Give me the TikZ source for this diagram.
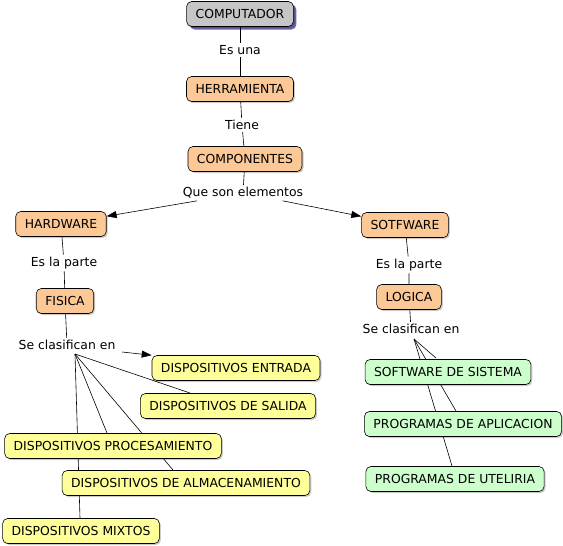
\documentclass[tikz,border=0pt]{standalone}
\usepackage{fontspec}
\setmainfont{DejaVu Sans}
\usetikzlibrary{arrows.meta,shadows}

\definecolor{peach}{HTML}{FCC896}
\definecolor{lemon}{HTML}{FFFF99}
\definecolor{mint}{HTML}{CCFFCC}
\definecolor{greybox}{HTML}{C6C6C6}

\begin{document}
\begin{tikzpicture}[x=1pt, y=-1pt, line width=0.6pt,
    every node/.style={font=\fontsize{12.4pt}{14pt}\selectfont},
    concept/.style={draw, rounded corners=5pt, minimum height=25pt, inner xsep=9pt,
      drop shadow={shadow xshift=1.5pt, shadow yshift=-1.5pt, fill=black, opacity=0.2}},
    link/.style={inner sep=2pt},
    tip/.style={-{Triangle[length=10pt,width=7pt]}}]
  \useasboundingbox (0,0) rectangle (563,546);
  % link words
  \node[link] (esuna) at (240,50) {Es una};
  \node[link] (tiene) at (242,125) {Tiene};
  \node[link] (queson) at (243,193) {Que son elementos};
  % hardware side
  \node[link] (parteL) at (64,263) {Es la parte};
  \node[link] (clasL) at (67,345) {Se clasifican en};
  % software side
  \node[link] (parteR) at (409,265) {Es la parte};
  \node[link] (clasR) at (411,329) {Se clasifican en};

  % boxes
  \node[concept, fill=greybox, drop shadow={shadow xshift=3pt, shadow yshift=-3pt, fill=black!60!blue, opacity=0.6}] (comp) at (240,14) {COMPUTADOR};
  \node[concept, fill=peach] (herr) at (240,89) {HERRAMIENTA};
  \node[concept, fill=peach] (compo) at (245,159) {COMPONENTES};
  \node[concept, fill=peach] (hard) at (61,224) {HARDWARE};
  \node[concept, fill=peach] (soft) at (405,225) {SOTFWARE};
  \node[concept, fill=peach] (fisica) at (65,301) {FISICA};
  \node[concept, fill=peach] (logica) at (409,297) {LOGICA};

  % fan lines under the lower boxes
  \coordinate (fanL) at (75,354);
  \coordinate (fanR) at (414,339);
  \draw (fanL) -- (190,393);
  \draw (fanL) -- (107,433);
  \draw (fanL) -- (173,470);
  \draw (fanL) -- (80,518);
  \draw (fanR) -- (436,358);
  \draw (fanR) -- (456,411);
  \draw (fanR) -- (452,466);

  \node[concept, fill=lemon] (entrada) at (236,368) {DISPOSITIVOS ENTRADA};
  \node[concept, fill=lemon] (salida) at (228,406) {DISPOSITIVOS DE SALIDA};
  \node[concept, fill=lemon] (proc) at (113,446) {DISPOSITIVOS PROCESAMIENTO};
  \node[concept, fill=lemon] (almac) at (186,483) {DISPOSITIVOS DE ALMACENAMIENTO};
  \node[concept, fill=lemon] (mixtos) at (81,531) {DISPOSITIVOS MIXTOS};
  \node[concept, fill=mint] (sistema) at (448,372) {SOFTWARE DE SISTEMA};
  \node[concept, fill=mint] (aplic) at (463,424) {PROGRAMAS DE APLICACION};
  \node[concept, fill=mint] (uteli) at (455,479) {PROGRAMAS DE UTELIRIA};

  % plain links
  \draw (comp) -- (esuna) -- (herr);
  \draw (herr) -- (tiene) -- (compo);
  \draw (compo) -- (queson);
  \draw (hard) -- (parteL) -- (fisica);
  \draw (fisica) -- (clasL);
  \draw (soft) -- (parteR) -- (logica);
  \draw (logica) -- (clasR);
  % arrows
  \coordinate (arrL) at (122,352);
  \draw[tip] (queson) -- (hard);
  \draw[tip] (queson) -- (soft);
  \draw[tip] (arrL) -- (entrada.north west);
\end{tikzpicture}
\end{document}
